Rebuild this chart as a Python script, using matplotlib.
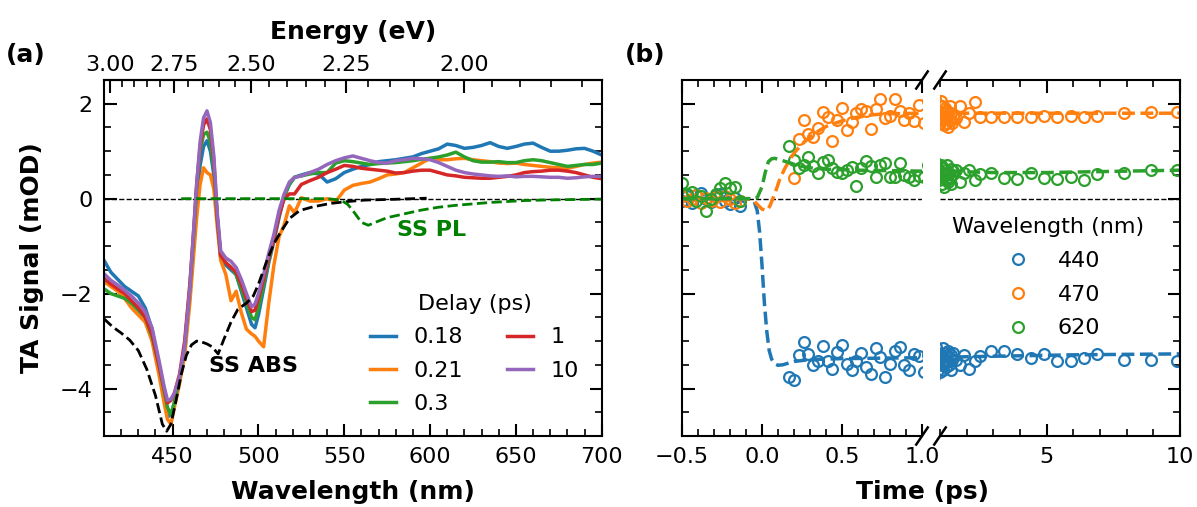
import numpy as np
import matplotlib
matplotlib.use("Agg")
import matplotlib.pyplot as plt
from matplotlib.ticker import MultipleLocator, FormatStrFormatter

# ---------------- Panel (a): TA spectra ----------------
wavelength = [410, 414, 418, 422, 426, 430, 434, 438, 442, 445, 447, 449, 451, 454, 457,
              460, 462, 464, 466, 468, 470, 472, 474, 476, 478, 481, 484, 487, 490, 493,
              496, 498, 500, 503, 506, 509, 512, 515, 518, 521, 525, 530, 535, 540, 545,
              550, 555, 560, 565, 570, 575, 580, 585, 590, 595, 600, 605, 610, 615, 620,
              625, 630, 635, 640, 645, 650, 655, 660, 665, 670, 675, 680, 685, 690, 695, 700]

delay_labels = ["0.18", "0.21", "0.3", "1", "10"]

ta_0p18 = [-1.30, -1.55, -1.70, -1.85, -1.95, -2.05, -2.30, -2.75, -3.55, -4.20, -4.60, -4.55, -4.30, -3.85, -3.20,
           -2.00, -1.10, -0.10, 0.70, 1.10, 1.22, 1.00, 0.50, -0.40, -1.25, -1.40, -1.50, -1.60, -1.95, -2.30,
           -2.65, -2.72, -2.45, -1.90, -1.35, -0.90, -0.40, 0.05, 0.30, 0.45, 0.50, 0.55, 0.52, 0.35, 0.42,
           0.55, 0.62, 0.68, 0.72, 0.78, 0.80, 0.82, 0.85, 0.88, 0.95, 1.00, 1.05, 1.15, 1.12, 1.06,
           1.08, 1.12, 1.18, 1.10, 1.06, 1.10, 1.15, 1.17, 1.08, 1.00, 1.00, 1.02, 1.05, 1.06, 1.00, 0.92]
ta_0p21 = [-1.75, -1.85, -1.95, -2.10, -2.30, -2.45, -2.60, -3.00, -3.70, -4.30, -4.65, -4.75, -4.40, -3.90, -3.30,
           -2.20, -1.30, -0.40, 0.30, 0.65, 0.55, 0.50, 0.20, -0.60, -1.30, -1.60, -2.15, -1.95, -2.40, -2.75,
           -2.85, -2.90, -3.00, -3.12, -2.20, -1.40, -0.80, -0.55, -0.15, -0.30, 0.02, -0.05, -0.05, 0.00, -0.06,
           0.18, 0.28, 0.32, 0.35, 0.42, 0.50, 0.52, 0.55, 0.65, 0.75, 0.85, 0.82, 0.82, 0.84, 0.85,
           0.82, 0.80, 0.78, 0.75, 0.74, 0.75, 0.72, 0.70, 0.68, 0.66, 0.65, 0.64, 0.68, 0.72, 0.75, 0.77]
ta_0p3 = [-1.90, -2.00, -2.05, -2.10, -2.20, -2.35, -2.50, -2.90, -3.50, -4.05, -4.40, -4.55, -4.30, -3.80, -3.10,
          -1.90, -0.90, 0.20, 1.00, 1.35, 1.40, 1.20, 0.60, -0.40, -1.20, -1.35, -1.45, -1.60, -1.90, -2.20,
          -2.50, -2.55, -2.30, -1.80, -1.30, -0.85, -0.35, 0.05, 0.30, 0.45, 0.48, 0.52, 0.55, 0.55, 0.75,
          0.80, 0.78, 0.75, 0.72, 0.74, 0.75, 0.76, 0.78, 0.80, 0.83, 0.85, 0.88, 0.92, 0.98, 0.88,
          0.80, 0.77, 0.77, 0.78, 0.76, 0.76, 0.80, 0.82, 0.80, 0.76, 0.72, 0.68, 0.70, 0.72, 0.72, 0.75]
ta_1 = [-1.68, -1.80, -1.90, -2.00, -2.15, -2.30, -2.50, -2.85, -3.50, -4.00, -4.30, -4.25, -4.10, -3.70, -3.00,
        -1.80, -0.80, 0.30, 1.10, 1.55, 1.68, 1.45, 0.80, -0.40, -1.20, -1.35, -1.45, -1.55, -1.80, -2.10,
        -2.38, -2.35, -2.10, -1.70, -1.25, -0.85, -0.35, 0.00, 0.10, 0.10, 0.30, 0.38, 0.45, 0.55, 0.62,
        0.70, 0.68, 0.64, 0.62, 0.60, 0.58, 0.54, 0.55, 0.58, 0.60, 0.60, 0.55, 0.50, 0.48, 0.45,
        0.44, 0.43, 0.43, 0.45, 0.47, 0.50, 0.55, 0.57, 0.58, 0.60, 0.60, 0.58, 0.55, 0.50, 0.45, 0.42]
ta_10 = [-1.58, -1.72, -1.82, -1.93, -2.05, -2.20, -2.38, -2.72, -3.40, -3.95, -4.25, -4.22, -4.10, -3.75, -3.10,
         -1.90, -0.80, 0.30, 1.20, 1.70, 1.85, 1.60, 0.90, -0.30, -1.10, -1.25, -1.32, -1.45, -1.70, -2.00,
         -2.28, -2.22, -2.00, -1.60, -1.15, -0.75, -0.25, 0.10, 0.35, 0.45, 0.48, 0.55, 0.62, 0.72, 0.80,
         0.86, 0.90, 0.85, 0.80, 0.76, 0.75, 0.80, 0.82, 0.85, 0.84, 0.82, 0.76, 0.68, 0.60, 0.55,
         0.52, 0.50, 0.48, 0.47, 0.48, 0.46, 0.47, 0.47, 0.46, 0.45, 0.45, 0.43, 0.44, 0.46, 0.47, 0.47]

# steady-state absorption (scaled, negative) and photoluminescence
ss_abs_wl = [410, 415, 420, 425, 430, 435, 440, 444, 446.5, 449, 452, 455, 458, 461, 464, 467,
             470, 473, 476.5, 480, 484, 488, 493, 497, 500, 505, 509, 513, 518, 524, 532, 542,
             552, 562, 572, 582, 590, 598]
ss_abs = [-2.53, -2.70, -2.83, -2.98, -3.20, -3.60, -4.15, -4.75, -4.90, -4.75, -4.25, -3.70, -3.30,
          -3.08, -3.00, -3.02, -3.06, -3.12, -3.27, -2.95, -2.60, -2.33, -2.20, -2.05, -1.80, -1.30,
          -0.95, -0.70, -0.42, -0.25, -0.17, -0.10, -0.06, -0.03, -0.02, -0.01, 0.00, 0.01]
ss_pl_wl = [455, 500, 540, 548, 552, 556, 560, 564, 568, 575, 585, 595, 605, 615, 625, 635, 645,
            655, 665, 680, 700]
ss_pl = [0.0, 0.0, 0.0, -0.03, -0.12, -0.30, -0.50, -0.56, -0.50, -0.40, -0.32, -0.24, -0.18,
         -0.14, -0.11, -0.08, -0.06, -0.04, -0.03, -0.02, -0.01]

# ---------------- Panel (b): kinetics ----------------
probe_labels = ["440", "470", "620"]

t_pre = [-0.50, -0.47, -0.44, -0.41, -0.38, -0.35, -0.32, -0.29, -0.26, -0.23, -0.20, -0.17, -0.14]
t_post = [0.17, 0.20, 0.23, 0.26, 0.29, 0.32, 0.35, 0.38, 0.41, 0.44, 0.47, 0.50, 0.53, 0.56,
          0.59, 0.62, 0.65, 0.68, 0.71, 0.74, 0.77, 0.80, 0.83, 0.86, 0.89, 0.92, 0.95, 0.98,
          1.01, 1.04, 1.07, 1.10, 1.13, 1.16, 1.19, 1.22, 1.25, 1.28, 1.31, 1.34, 1.37, 1.40,
          1.43, 1.46, 1.49,
          1.6, 1.75, 1.9, 2.1, 2.3, 2.5, 2.9, 3.4, 3.9, 4.4, 4.9, 5.4, 5.9, 6.4, 6.9, 7.9, 8.9, 9.9]

k440_pre = [-0.05, 0.05, -0.10, 0.08, 0.12, 0.00, -0.08, 0.05, 0.10, -0.05, -0.12, 0.02, -0.15]
k440_post = [-3.75, -3.82, -3.30, -3.02, -3.28, -3.51, -3.41, -3.11, -3.41, -3.58, -3.23, -3.09, -3.48, -3.62,
             -3.41, -3.25, -3.55, -3.69, -3.14, -3.34, -3.75, -3.49, -3.20, -3.13, -3.51, -3.60, -3.28, -3.32,
             -3.66, -3.30, -3.50, -3.15, -3.60, -3.40, -3.25, -3.55, -3.30, -3.45, -3.20, -3.50, -3.35, -3.60,
             -3.30, -3.40, -3.25,
             -3.40, -3.50, -3.30, -3.58, -3.41, -3.32, -3.21, -3.20, -3.28, -3.35, -3.28, -3.41, -3.43, -3.35,
             -3.28, -3.39, -3.39, -3.42]
k470_pre = [0.05, -0.05, 0.00, 0.08, -0.10, 0.02, -0.05, 0.03, -0.08, 0.05, 0.00, -0.10, -0.05]
k470_post = [np.nan, 0.43, 1.25, 1.65, 1.37, 1.30, 1.49, 1.82, 1.72, 1.22, 1.66, 1.91, 1.44, 1.61,
             1.80, 1.89, 1.84, 1.47, 1.89, 2.09, 1.70, 1.75, 2.09, 1.84, 1.66, 1.80, 1.63, 1.98,
             1.59, 2.05, 1.95, 1.80, 1.70, 1.55, 1.90, 1.75, 1.60, 1.85, 1.50, 1.70, 1.95, 1.65,
             1.80, 1.60, 1.75,
             1.70, 1.95, 1.62, 1.80, 2.04, 1.73, 1.73, 1.72, 1.72, 1.72, 1.75, 1.72, 1.75, 1.73,
             1.75, 1.80, 1.83, 1.83]
k620_pre = [0.33, 0.10, 0.15, -0.05, 0.05, -0.27, 0.00, 0.10, 0.22, 0.33, 0.22, 0.25, -0.05]
k620_post = [1.11, 0.82, 0.64, 0.71, 0.87, 0.68, 0.54, 0.78, 0.82, 0.64, 0.57, 0.54, 0.61, 0.66,
             0.27, 0.64, 0.80, 0.69, 0.46, 0.71, 0.75, 0.46, 0.46, 0.76, 0.50, 0.45, 0.40, 0.48,
             0.46, 0.70, 0.30, 0.55, 0.65, 0.25, 0.50, 0.60, 0.40, 0.70, 0.35, 0.55, 0.45, 0.62,
             0.30, 0.50, 0.58,
             0.60, 0.35, 0.55, 0.61, 0.40, 0.52, 0.54, 0.43, 0.41, 0.54, 0.43, 0.41, 0.46, 0.40,
             0.52, 0.54, 0.61, 0.61]

# global-fit curves
fit440_t = [-0.5, -0.08, -0.05, -0.03, -0.015, 0.0, 0.015, 0.03, 0.045, 0.06, 0.08, 0.10, 0.13,
            0.16, 0.20, 0.30, 0.50, 0.75, 1.0, 2.0, 4.0, 6.0, 8.0, 10.0]
fit440 = [0.0, 0.0, -0.05, -0.25, -0.70, -1.40, -2.20, -2.80, -3.20, -3.38, -3.48, -3.51, -3.50,
          -3.47, -3.43, -3.39, -3.37, -3.36, -3.35, -3.33, -3.31, -3.29, -3.28, -3.27]
fit470_t = [-0.5, -0.10, -0.06, -0.03, 0.0, 0.03, 0.05, 0.07, 0.09, 0.11, 0.14, 0.17, 0.20, 0.25,
            0.30, 0.35, 0.40, 0.50, 0.60, 0.70, 0.80, 1.0, 4.0, 10.0]
fit470 = [0.0, 0.0, -0.02, -0.12, -0.22, -0.25, -0.15, 0.02, 0.20, 0.40, 0.62, 0.80, 0.96, 1.15,
          1.30, 1.42, 1.52, 1.64, 1.72, 1.77, 1.79, 1.80, 1.80, 1.80]
fit620_t = [-0.5, -0.06, -0.03, 0.0, 0.02, 0.04, 0.06, 0.08, 0.10, 0.13, 0.17, 0.22, 0.30, 0.40,
            0.60, 1.0, 3.0, 5.0, 7.0, 10.0]
fit620 = [0.0, 0.0, 0.02, 0.25, 0.55, 0.78, 0.84, 0.85, 0.83, 0.80, 0.76, 0.70, 0.65, 0.62,
          0.60, 0.58, 0.55, 0.55, 0.57, 0.60]

# ---------------- figure ----------------
W, H = 1197, 507
fig = plt.figure(figsize=(W / 100, H / 100), dpi=100)


def box(x0, y0, x1, y1):
    return [x0 / W, 1 - y1 / H, (x1 - x0) / W, (y1 - y0) / H]


ax_a = fig.add_axes(box(104, 80, 601.7, 436))
ax_b1 = fig.add_axes(box(682, 80, 922, 436))
ax_b2 = fig.add_axes(box(940, 80, 1180, 436))

colors = ["#1f77b4", "#ff7f0e", "#2ca02c", "#d62728", "#9467bd"]
TICK_FS = 16
LABEL_FS = 18


def style_ticks(ax, **sides):
    ax.tick_params(which="both", direction="in", labelsize=TICK_FS, **sides)
    ax.tick_params(which="major", length=9, width=1.5, pad=8)
    ax.tick_params(which="minor", length=5, width=1.2)
    for sp in ax.spines.values():
        sp.set_linewidth(1.5)


# ---- panel (a)
for vals, lab, c in zip([ta_0p18, ta_0p21, ta_0p3, ta_1, ta_10], delay_labels, colors):
    ax_a.plot(wavelength, vals, color=c, lw=2.5, label=lab)
ax_a.axhline(0, color="k", ls="--", lw=1, zorder=1)
ax_a.plot(ss_abs_wl, ss_abs, color="k", ls="--", lw=2)
ax_a.plot(ss_pl_wl, ss_pl, color="green", ls="--", lw=2)
ax_a.text(581, -0.65, "SS PL", color="green", fontsize=16, fontweight="bold", va="center")
ax_a.text(471, -3.53, "SS ABS", color="k", fontsize=16, fontweight="bold", va="center")

ax_a.set_xlim(410, 700)
ax_a.set_ylim(-5, 2.5)
ax_a.xaxis.set_major_locator(MultipleLocator(50))
ax_a.xaxis.set_minor_locator(MultipleLocator(10))
ax_a.yaxis.set_major_locator(MultipleLocator(2))
ax_a.yaxis.set_minor_locator(MultipleLocator(0.5))
style_ticks(ax_a, left=True, right=True, bottom=True, top=False)
ax_a.set_xlabel("Wavelength (nm)", fontsize=LABEL_FS, fontweight="bold")
ax_a.xaxis.set_label_coords(0.5, -0.124)
ax_a.set_ylabel("TA Signal (mOD)", fontsize=LABEL_FS, fontweight="bold")
ax_a.yaxis.set_label_coords(-0.12, 0.5)


def nm_to_ev(x):
    x = np.asarray(x, dtype=float)
    with np.errstate(divide="ignore"):
        return 1239.84 / x


sec = ax_a.secondary_xaxis("top", functions=(nm_to_ev, nm_to_ev))
sec.xaxis.set_major_locator(MultipleLocator(0.25))
sec.xaxis.set_minor_locator(MultipleLocator(0.05))
sec.xaxis.set_major_formatter(FormatStrFormatter("%.2f"))
sec.tick_params(which="both", direction="in", labelsize=TICK_FS)
sec.tick_params(which="major", length=9, width=1.5, pad=3.5)
sec.tick_params(which="minor", length=5, width=1.2)
sec.spines["top"].set_linewidth(1.5)
fig.text(353 / W, 1 - 32 / H, "Energy (eV)", ha="center", va="center",
         fontsize=LABEL_FS, fontweight="bold")

ax_a.legend(title="Delay (ps)", ncol=2, frameon=False, fontsize=16, title_fontsize=16,
            handlelength=1.15, handletextpad=0.8, columnspacing=2.0, labelspacing=0.6,
            borderpad=0, borderaxespad=0, loc="upper left",
            bbox_to_anchor=(370 / W, 1 - 294 / H), bbox_transform=fig.transFigure)

# ---- panel (b)
series = [(k440_pre, k440_post, fit440_t, fit440),
          (k470_pre, k470_post, fit470_t, fit470),
          (k620_pre, k620_post, fit620_t, fit620)]
for ax in (ax_b1, ax_b2):
    ax.axhline(0, color="k", ls="--", lw=1, zorder=1)
    for (pre, post, ft, fv), lab, c in zip(series, probe_labels, colors[:3]):
        ax.plot(t_pre + t_post, pre + post, ls="none", marker="o", ms=7.8, mfc="none",
                mec=c, mew=1.6, label=lab)
    for (pre, post, ft, fv), c in zip(series, colors[:3]):
        ax.plot(ft, fv, color=c, ls="--", lw=2.5)
    ax.set_ylim(-5, 2.5)
    ax.yaxis.set_major_locator(MultipleLocator(2))
    ax.yaxis.set_minor_locator(MultipleLocator(0.5))

ax_b1.set_xlim(-0.5, 1.0)
ax_b1.xaxis.set_major_locator(MultipleLocator(0.5))
ax_b1.xaxis.set_minor_locator(MultipleLocator(0.1))
style_ticks(ax_b1, left=True, right=False, top=True, bottom=True, labelleft=False)
ax_b1.spines["right"].set_visible(False)

ax_b2.set_xlim(1.0, 10.0)
ax_b2.xaxis.set_major_locator(MultipleLocator(5))
ax_b2.xaxis.set_minor_locator(MultipleLocator(1))
style_ticks(ax_b2, left=False, right=True, top=True, bottom=True, labelleft=False)
ax_b2.spines["left"].set_visible(False)

ax_b1.set_xlabel("Time (ps)", fontsize=LABEL_FS, fontweight="bold")
ax_b1.xaxis.set_label_coords(1.0, -0.124)

# broken-axis marks
d = 0.024
kw = dict(color="k", lw=1.8, clip_on=False)
ax_b1.plot([1 - d, 1 + d], [-d, d], transform=ax_b1.transAxes, **kw)
ax_b1.plot([1 - d, 1 + d], [1 - d, 1 + d], transform=ax_b1.transAxes, **kw)
ax_b2.plot([-d, d], [-d, d], transform=ax_b2.transAxes, **kw)
ax_b2.plot([-d, d], [1 - d, 1 + d], transform=ax_b2.transAxes, **kw)

handles, labels = ax_b1.get_legend_handles_labels()
ax_b2.legend(handles[:3], labels[:3], title="Wavelength (nm)", frameon=False, fontsize=16,
             title_fontsize=16, handletextpad=0.8, labelspacing=0.62, borderpad=0,
             borderaxespad=0, loc="upper left", bbox_to_anchor=(952 / W, 1 - 217 / H),
             bbox_transform=fig.transFigure)

fig.text(6 / W, 1 - 55 / H, "(a)", fontsize=18, fontweight="bold", va="center")
fig.text(625 / W, 1 - 55 / H, "(b)", fontsize=18, fontweight="bold", va="center")

fig.savefig("out.png", dpi=100)
